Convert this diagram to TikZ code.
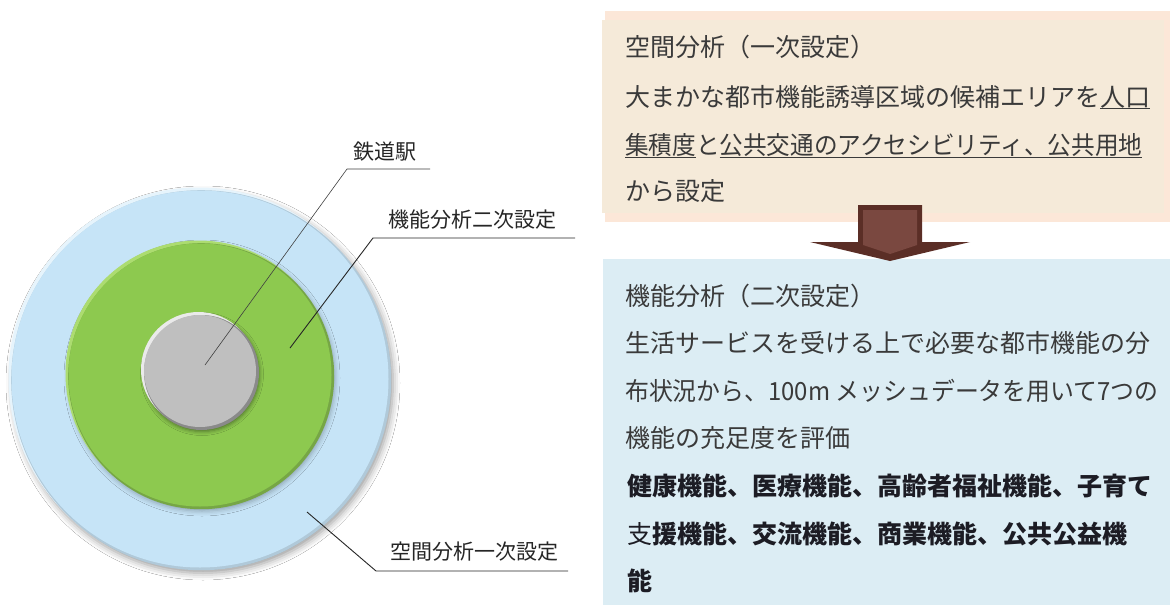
\documentclass[tikz,border=0pt]{standalone}
\usepackage{fontspec}
\setmainfont{Noto Sans CJK JP}
\usetikzlibrary{shadows.blur}
\definecolor{outerblue}{HTML}{C6E4F7}
\definecolor{outerlight}{HTML}{E6F4FC}
\definecolor{outerdark}{HTML}{B0C9D9}
\definecolor{greenc}{HTML}{8DC94F}
\definecolor{greenlight}{HTML}{ACDC70}
\definecolor{greendark}{HTML}{76A645}
\definecolor{grayc}{HTML}{BFBFBF}
\definecolor{graylight}{HTML}{EAEAEA}
\definecolor{graydark}{HTML}{8A8A8A}
\definecolor{peach}{HTML}{FCE7D8}
\definecolor{beige}{HTML}{F5EAD9}
\definecolor{bluebox}{HTML}{DCEDF4}
\definecolor{arrowdark}{HTML}{5B2E26}
\definecolor{arrowmid}{HTML}{7A4840}
\definecolor{txt}{HTML}{3A3A3A}
\definecolor{txtbold}{HTML}{1C1C24}
\newcommand\myul[1]{\setbox0\hbox{#1}\rlap{\textcolor{txt}{\rule[-3.4pt]{\wd0}{1.2pt}}}\box0}
\begin{document}
\begin{tikzpicture}[x=1pt,y=-1pt,
  lbl/.style={font=\fontsize{21}{21}\selectfont, text=black!85, inner sep=0pt},
  body/.style={font=\fontsize{25}{25}\selectfont, text=txt, inner sep=0pt, anchor=base west},
  boldline/.style={body, font=\fontsize{25}{25}\selectfont\bfseries, text=txtbold},
  leader/.style={line width=0.9pt, black!85},
  disc/.style={circle, inner sep=0pt, draw=none},
]
\useasboundingbox (0,0) rectangle (1170,605);
\fill[white] (0,0) rectangle (1170,605);

% --- concentric discs ---
\fill[outerblue, blur shadow={shadow xshift=3pt, shadow yshift=-4pt, shadow blur radius=7pt, shadow opacity=40}] (200,379) circle[radius=190];
\fill[outerlight] (198.5,377.5) circle[radius=190];
\fill[outerdark] (201.2,380.2) circle[radius=190];
\node[disc, minimum size=377pt, fill=outerblue] (outer) at (200,379) {};

\fill[greendark!55!outerblue, blur shadow={shadow xshift=2pt, shadow yshift=-3pt, shadow blur radius=5pt, shadow opacity=30}] (200,375) circle[radius=133];
\fill[greenlight] (198.5,373.5) circle[radius=133];
\fill[greendark] (201.2,376.2) circle[radius=133];
\node[disc, minimum size=263pt, fill=greenc] (green) at (200,375) {};

\fill[graydark, blur shadow={shadow xshift=2pt, shadow yshift=-3pt, shadow blur radius=4pt, shadow opacity=45}] (200,371) circle[radius=57.5];
\fill[graylight] (198.5,369.5) circle[radius=57.5];
\fill[graydark] (201.5,372.5) circle[radius=57.5];
\node[disc, minimum size=112pt, fill=grayc] (gray) at (200,371) {};

% --- labels and leaders ---
\node[lbl] (l1) at (385,152) {鉄道駅};
\node[lbl] (l2) at (472,220) {機能分析二次設定};
\node[lbl] (l3) at (474,552) {空間分析一次設定};

\coordinate (t1) at (205,365);
\coordinate (k1) at (347,169);
\coordinate (h1) at (430,169);
\coordinate (t2) at (290,348);
\coordinate (k2) at (373,238);
\coordinate (h2) at (575,238);
\coordinate (t3) at (307,512);
\coordinate (k3) at (376,571);
\coordinate (h3) at (568,571);

\draw[line width=0.6pt, black!75] (t1) -- (k1) -- (h1);
\draw[leader] (t2) -- (k2) -- (h2);
\draw[leader] (t3) -- (k3) -- (h3);

% --- top box ---
\fill[peach] (605,11) rectangle (1170,222);
\fill[beige] (602,20) rectangle (1164,213);
\node[body] (a1) at (625,56.5) {空間分析（一次設定）};
\node[body] (a2) at (625,106) {大まかな都市機能誘導区域の候補エリアを\myul{人口}};
\node[body] (a3) at (625,154.5) {\scalebox{0.945}[1]{\myul{集積度}と\myul{公共交通のアクセシビリティ、公共用地}}};
\node[body] (a4) at (625,200) {から設定};

% --- bottom box ---
\fill[bluebox] (603,259) rectangle (1170,605);
\node[body] (b1) at (625,305.5) {機能分析（二次設定）};
\node[body] (b2) at (625,352.5) {生活サービスを受ける上で必要な都市機能の分};
\node[body] (b3) at (625,400) {\scalebox{0.955}[1]{布状況から、100m メッシュデータを用いて7つの}};
\node[body] (b4) at (625,447.5) {機能の充足度を評価};
\node[boldline] (b5) at (627,495.5) {健康機能、医療機能、高齢者福祉機能、子育て};
\node[boldline] (b6) at (627,543.5) {{\mdseries 支}援機能、交流機能、商業機能、公共公益機};
\node[boldline] (b7) at (627,590.5) {能};

% --- block arrow between the boxes ---
\fill[arrowdark] (858,205) -- (922,205) -- (922,242) -- (970,242) -- (890,261) -- (810,242) -- (858,242) -- cycle;
\fill[arrowmid] (863,210) -- (917,210) -- (917,245) -- (890,254) -- (863,245) -- cycle;
\end{tikzpicture}
\end{document}
